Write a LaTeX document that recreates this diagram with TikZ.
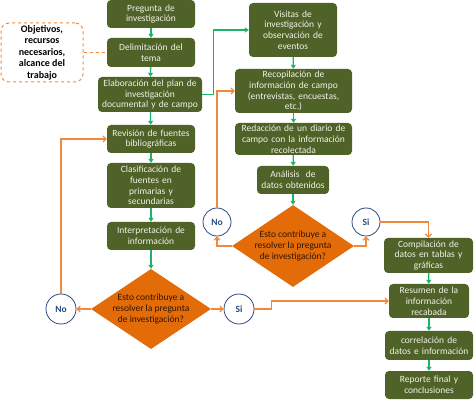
\documentclass[tikz,border=0pt]{standalone}
\usepackage{fontspec}
\setmainfont{Carlito}
\usetikzlibrary{shapes.geometric,arrows.meta}
\definecolor{boxgreen}{HTML}{4F6228}
\definecolor{boxtext}{HTML}{F2F2E6}
\definecolor{arrgreen}{HTML}{1DB46A}
\definecolor{lineorange}{HTML}{F0883E}
\definecolor{diaorange}{HTML}{E36C09}
\definecolor{navy}{HTML}{2E4A7D}
\definecolor{diatext}{HTML}{2E1605}
\begin{document}
\begin{tikzpicture}[x=1pt,y=-1pt,
  gbox/.style 2 args={draw=none, fill=boxgreen, rounded corners=4pt, text=boxtext,
    align=center, font=\fontsize{9.5}{10.8}\selectfont, inner xsep=1pt, inner ysep=0pt,
    minimum width=#1pt, minimum height=#2pt, text width={#1pt-2pt}},
  decision/.style={diamond, fill=diaorange, draw=none, inner sep=0pt, minimum width=#1pt, minimum height=80pt},
  dtext/.style={align=center, text=diatext, font=\fontsize{9.5}{11}\selectfont, inner sep=0pt},
  circ/.style={circle, draw=navy, line width=0.8pt, fill=white, minimum size=#1pt, inner sep=0pt,
    font=\bfseries\fontsize{9.5}{10}\selectfont, text=navy},
  notebox/.style={draw=lineorange, dashed, line width=1pt, rounded corners=8pt, align=center,
    font=\bfseries\fontsize{10}{11.5}\selectfont, text=black, minimum width=82pt, minimum height=59pt, inner sep=0pt},
  garrow/.style={draw=arrgreen, line width=1.3pt, -{Triangle[length=4pt,width=5pt]}},
  oarrow/.style={draw=lineorange, line width=1.2pt, -{Straight Barb[length=3pt,width=6pt]}},
  odash/.style={draw=lineorange, line width=1.2pt, dashed}
]
\useasboundingbox (0,0) rectangle (474,403);

% left column
\node[gbox={88}{28}] (preg) at (151,14) {Pregunta de\\investigación};
\node[gbox={88}{29}] (delim) at (151,52.5) {Delimitación del\\tema};
\node[gbox={104}{35}] (elab) at (150,94.5) {Elaboración del plan de\\investigación\\documental y de campo};
\node[gbox={88}{28}] (revis) at (151,139) {Revisión de fuentes\\bibliográficas};
\node[gbox={88}{45}] (clasif) at (151,185.5) {Clasificación de\\fuentes en\\primarias y\\secundarias};
\node[gbox={88}{28}] (interp) at (151,236) {Interpretación de\\información};
\node[decision=120] (diaL) at (151,309) {};
\node[dtext] (diaLt) at (151,309) {Esto contribuye a\\resolver la pregunta\\de investigación?};
\node[circ=30] (noL) at (61,309) {No};
\node[circ=30] (siL) at (239,309) {Si};
\node[notebox] (obj) at (42,52.5) {Objetivos,\\recursos\\necesarios,\\alcance del\\trabajo};

% right column
\node[gbox={88}{54}] (visit) at (293,30) {Visitas de\\investigación y\\observación de\\eventos};
\node[gbox={117}{44}] (recop) at (293.5,91) {Recopilación de\\información de campo\\(entrevistas, encuestas,\\etc.)};
\node[gbox={117}{32}] (redac) at (293.5,139) {Redacción de un diario de\\campo con la información\\recolectada};
\node[gbox={72}{28}] (anal) at (293,180) {Análisis\ \ de\\datos obtenidos};
\node[decision=122, minimum height=82pt] (diaR) at (293,246) {};
\node[dtext] (diaRt) at (293,246) {Esto contribuye a\\resolver la pregunta\\de investigación?};
\node[circ=28] (noR) at (217,222) {No};
\node[circ=28] (siR) at (366,222) {Si};
\node[gbox={89}{35}] (compil) at (428.5,255.5) {Compilación de\\datos en tablas y\\gráficas};
\node[gbox={80}{34}] (resum) at (429,301) {Resumen de la\\información\\recabada};
\node[gbox={88}{29}] (correl) at (429,345.5) {correlación de\\datos e información};
\node[gbox={88}{28}] (report) at (429,385) {Reporte final y\\conclusiones};

% green connectors
\draw[garrow] (preg) -- (delim);
\draw[garrow] (delim) -- (elab);
\draw[garrow] (elab) -- (revis);
\draw[garrow] (revis) -- (clasif);
\draw[garrow] (clasif) -- (interp);
\draw[garrow] (interp) -- (diaL.north);
\draw[garrow] (elab.east) -- ++(11,0) |- (visit.west);
\draw[garrow] (visit) -- (recop);
\draw[garrow] (recop) -- (redac);
\draw[garrow] (redac) -- (anal);
\draw[garrow] (anal) -- (diaR.north);
\draw[garrow] (compil) -- (resum);
\draw[garrow] (resum) -- (correl);
\draw[garrow] (correl) -- (report);

% orange connectors
\draw[odash] (obj.east) -- (delim.west);
\draw[oarrow] (diaL.west) -- (noL.east);
\draw[oarrow] (noL.north) |- (revis.west);
\draw[oarrow] (diaL.east) -- (siL.west);
\draw[oarrow] (siL.east) -- ++(17,0) |- (resum.west);
\draw[oarrow] (diaR.west) -| (noR.south);
\draw[oarrow] (noR.north) |- (recop.west);
\draw[oarrow] (diaR.east) -| (siR.south);
\draw[oarrow] (siR.east) -| (compil.north);
\end{tikzpicture}
\end{document}
